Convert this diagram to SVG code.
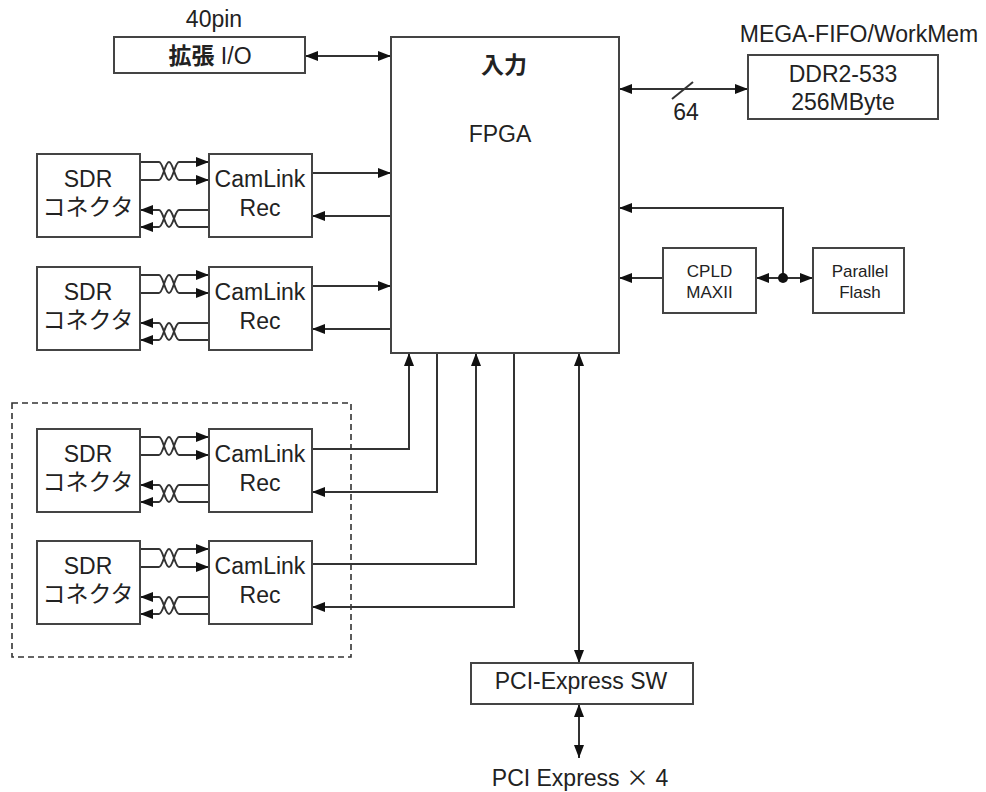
<svg xmlns="http://www.w3.org/2000/svg" width="986" height="792" viewBox="0 0 986 792">
<style>
.box{fill:#fff;stroke:#444;stroke-width:2}
.ln{fill:none;stroke:#333;stroke-width:2}
.t{font-family:"Liberation Sans","Noto Sans CJK JP",sans-serif;font-size:23px;fill:#222;text-anchor:middle}
.s{font-size:17px}
.b{font-weight:bold}
.cjk{font-family:"Noto Sans CJK JP",sans-serif}
.dash{fill:none;stroke:#333;stroke-width:1.6;stroke-dasharray:6,4}
</style>
<defs>
<marker id="ah" viewBox="0 0 13 10" refX="13" refY="5" markerWidth="13" markerHeight="10" markerUnits="userSpaceOnUse" orient="auto-start-reverse">
<path d="M0,0 L13,5 L0,10 z" fill="#111"/>
</marker>
<g id="pairR">
<path class="ln" d="M140,8 H159 C163,8 165,26 169,26 C173,26 175,8 179,8 H209" marker-end="url(#ah)"/>
<path class="ln" d="M140,26 H159 C163,26 165,8 169,8 C173,8 175,26 179,26 H209" marker-end="url(#ah)"/>
<path class="ln" d="M209,56 H179 C175,56 173,73 169,73 C165,73 163,56 159,56 H140" marker-end="url(#ah)"/>
<path class="ln" d="M209,73 H179 C175,73 173,56 169,56 C165,56 163,73 159,73 H140" marker-end="url(#ah)"/>
</g>
</defs>

<rect class="dash" x="12" y="403" width="339" height="254"/>

<g id="connectors">
<path class="ln" d="M305,56 H391" marker-start="url(#ah)" marker-end="url(#ah)"/>
<path class="ln" d="M619,89 H748" marker-start="url(#ah)" marker-end="url(#ah)"/>
<path class="ln" d="M672,99 L693,82"/>
<use href="#pairR" transform="translate(0,154)"/>
<use href="#pairR" transform="translate(0,267)"/>
<use href="#pairR" transform="translate(0,429)"/>
<use href="#pairR" transform="translate(0,541)"/>
<path class="ln" d="M312,173 H391" marker-end="url(#ah)"/>
<path class="ln" d="M391,216 H312" marker-end="url(#ah)"/>
<path class="ln" d="M312,286 H391" marker-end="url(#ah)"/>
<path class="ln" d="M391,329 H312" marker-end="url(#ah)"/>
<path class="ln" d="M312,449 H409 V353" marker-end="url(#ah)"/>
<path class="ln" d="M437,353 V492 H312" marker-end="url(#ah)"/>
<path class="ln" d="M312,564 H476 V353" marker-end="url(#ah)"/>
<path class="ln" d="M514,353 V607 H312" marker-end="url(#ah)"/>
<path class="ln" d="M579,353 V663" marker-start="url(#ah)" marker-end="url(#ah)"/>
<path class="ln" d="M579,704 V758" marker-start="url(#ah)" marker-end="url(#ah)"/>
<path class="ln" d="M663,278 H619" marker-end="url(#ah)"/>
<path class="ln" d="M756,278 H813" marker-start="url(#ah)" marker-end="url(#ah)"/>
<path class="ln" d="M783,278 V208 H619" marker-end="url(#ah)"/>
<circle cx="783" cy="278" r="5" fill="#111"/>
</g>

<g id="expio">
<rect class="box" x="114" y="37" width="191" height="36"/>
<text class="t" x="214" y="27">40pin</text>
<text class="t" x="210" y="64"><tspan class="b">拡張</tspan> I/O</text>
</g>

<g id="fpga">
<rect class="box" x="391" y="37" width="228" height="316"/>
<text class="t b" x="504" y="73">入力</text>
<text class="t" x="500" y="142">FPGA</text>
</g>

<g id="ddr">
<text class="t" x="859" y="42">MEGA-FIFO/WorkMem</text>
<rect class="box" x="748" y="55" width="190" height="64"/>
<text class="t" x="843" y="82">DDR2-533</text>
<text class="t" x="843" y="110">256MByte</text>
<text class="t" x="686" y="120">64</text>
</g>

<g id="cpld">
<rect class="box" x="663" y="248" width="93" height="65"/>
<text class="t s" x="709.5" y="277">CPLD</text>
<text class="t s" x="709.5" y="298">MAXII</text>
</g>

<g id="flash">
<rect class="box" x="813" y="248" width="91" height="65"/>
<text class="t s" x="860" y="277">Parallel</text>
<text class="t s" x="860" y="298">Flash</text>
</g>

<g id="pcisw">
<rect class="box" x="471" y="663" width="222" height="41"/>
<text class="t" x="581" y="689">PCI-Express SW</text>
<text class="t" x="580" y="786">PCI Express <tspan class="cjk">×</tspan> 4</text>
</g>

<g id="sdr1"><rect class="box" x="37" y="154" width="103" height="83"/><text class="t" x="88" y="187">SDR</text><text class="t" x="88" y="215">コネクタ</text></g>
<g id="cam1"><rect class="box" x="209" y="154" width="103" height="83"/><text class="t" x="260" y="187">CamLink</text><text class="t" x="260" y="216">Rec</text></g>
<g id="sdr2"><rect class="box" x="37" y="267" width="103" height="83"/><text class="t" x="88" y="300">SDR</text><text class="t" x="88" y="328">コネクタ</text></g>
<g id="cam2"><rect class="box" x="209" y="267" width="103" height="83"/><text class="t" x="260" y="300">CamLink</text><text class="t" x="260" y="329">Rec</text></g>
<g id="sdr3"><rect class="box" x="37" y="429" width="103" height="83"/><text class="t" x="88" y="462">SDR</text><text class="t" x="88" y="490">コネクタ</text></g>
<g id="cam3"><rect class="box" x="209" y="429" width="103" height="83"/><text class="t" x="260" y="462">CamLink</text><text class="t" x="260" y="491">Rec</text></g>
<g id="sdr4"><rect class="box" x="37" y="541" width="103" height="83"/><text class="t" x="88" y="574">SDR</text><text class="t" x="88" y="602">コネクタ</text></g>
<g id="cam4"><rect class="box" x="209" y="541" width="103" height="83"/><text class="t" x="260" y="574">CamLink</text><text class="t" x="260" y="603">Rec</text></g>
</svg>
